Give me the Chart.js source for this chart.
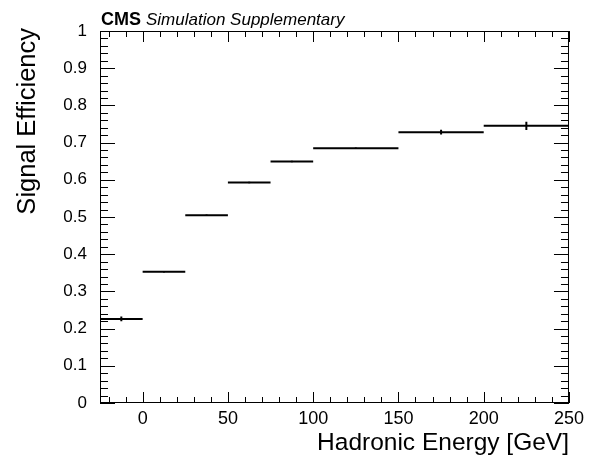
<!DOCTYPE html>
<html>
<head>
<meta charset="utf-8">
<script src="https://cdn.jsdelivr.net/npm/chart.js@4"></script>
<style>
  html, body { margin: 0; padding: 0; background: #fff; }
  #wrap { width: 589px; height: 455px; }
</style>
</head>
<body>
<div id="wrap"><canvas id="effChart"></canvas></div>
<script>
// bin edges in GeV and measured signal efficiency per bin
const binEdges = [-25, 0, 25, 50, 75, 100, 150, 200, 250];
const efficiency = [0.226, 0.353, 0.505, 0.593, 0.649, 0.685, 0.728, 0.745];
const effErrors = [0.0065, 0.002, 0.002, 0.002, 0.002, 0.002, 0.0065, 0.011];

const xTickLabels = [0, 50, 100, 150, 200, 250];
const yTickLabels = [0, 0.1, 0.2, 0.3, 0.4, 0.5, 0.6, 0.7, 0.8, 0.9, 1];

const FONT = "'Liberation Sans', Arial, Helvetica, sans-serif";

// horizontal bin segments, broken by nulls
let binLines = [];
let errorLines = [];
for (let i = 0; i < efficiency.length; i++) {
  let lo = binEdges[i];
  let hi = binEdges[i + 1];
  let mid = (lo + hi) / 2;
  binLines.push({ x: lo, y: efficiency[i] });
  binLines.push({ x: hi, y: efficiency[i] });
  binLines.push({ x: hi, y: null });
  errorLines.push({ x: mid, y: efficiency[i] - effErrors[i] });
  errorLines.push({ x: mid, y: efficiency[i] + effErrors[i] });
  errorLines.push({ x: mid, y: null });
}

// ROOT style frame with inward ticks on all four sides
const rootFrame = {
  id: "rootFrame",
  afterDraw(chart) {
    const ctx = chart.ctx;
    const area = chart.chartArea;
    const xs = chart.scales.x;
    const ys = chart.scales.y;
    ctx.save();
    ctx.strokeStyle = "#000";
    ctx.lineWidth = 1;
    ctx.strokeRect(area.left + 0.5, area.top + 0.5, area.right - area.left - 1, area.bottom - area.top - 1);

    ctx.beginPath();
    // x ticks: major every 50, minor every 10
    for (let v = -20; v <= 250; v += 10) {
      let px = Math.round(xs.getPixelForValue(v)) + 0.5;
      let len = v % 50 === 0 ? 11 : 6;
      ctx.moveTo(px, area.bottom);
      ctx.lineTo(px, area.bottom - len);
      ctx.moveTo(px, area.top);
      ctx.lineTo(px, area.top + len);
    }
    // y ticks: major every 0.1, minor every 0.02
    for (let k = 0; k <= 50; k++) {
      let py = Math.round(ys.getPixelForValue(k * 0.02)) + 0.5;
      let len = k % 5 === 0 ? 15 : 8;
      ctx.moveTo(area.left, py);
      ctx.lineTo(area.left + len, py);
      ctx.moveTo(area.right, py);
      ctx.lineTo(area.right - len, py);
    }
    ctx.stroke();

    ctx.fillStyle = "#000";
    // header
    ctx.textBaseline = "alphabetic";
    ctx.textAlign = "left";
    ctx.font = "bold 18px " + FONT;
    ctx.fillText("CMS", area.left + 1, 25);
    let w = ctx.measureText("CMS").width;
    ctx.font = "italic 17px " + FONT;
    ctx.fillText("Simulation Supplementary", area.left + 1 + w + 5, 25);

    // axis titles
    ctx.font = "24.5px " + FONT;
    ctx.textAlign = "right";
    ctx.fillText("Hadronic Energy [GeV]", area.right, 450);

    ctx.font = "25.5px " + FONT;
    ctx.translate(35, 28);
    ctx.rotate(-Math.PI / 2);
    ctx.textAlign = "right";
    ctx.fillText("Signal Efficiency", 0, 0);
    ctx.restore();
  },
};

new Chart(document.getElementById("effChart"), {
  type: "scatter",
  data: {
    datasets: [
      {
        label: "efficiency",
        data: binLines,
        showLine: true,
        spanGaps: false,
        borderColor: "#000",
        borderWidth: 2,
        pointRadius: 0,
        tension: 0,
      },
      {
        label: "error",
        data: errorLines,
        showLine: true,
        spanGaps: false,
        borderColor: "#000",
        borderWidth: 2,
        pointRadius: 0,
        tension: 0,
      },
    ],
  },
  options: {
    responsive: true,
    maintainAspectRatio: false,
    animation: false,
    layout: { padding: { left: 0, top: 31, right: 20, bottom: 0 } },
    plugins: {
      legend: { display: false },
      tooltip: { enabled: false },
    },
    scales: {
      x: {
        type: "linear",
        min: -25,
        max: 250,
        grid: { display: false, drawTicks: false },
        border: { display: false },
        afterBuildTicks: (scale) => {
          scale.ticks = xTickLabels.map((v) => ({ value: v }));
        },
        afterFit: (scale) => {
          scale.height = 52;
        },
        ticks: {
          color: "#000",
          padding: 5,
          maxRotation: 0,
          font: { family: FONT, size: 18 },
        },
      },
      y: {
        type: "linear",
        min: 0,
        max: 1,
        grid: { display: false, drawTicks: false },
        border: { display: false },
        afterBuildTicks: (scale) => {
          scale.ticks = yTickLabels.map((v) => ({ value: v }));
        },
        afterFit: (scale) => {
          scale.width = 100;
        },
        ticks: {
          color: "#000",
          padding: 13,
          font: { family: FONT, size: 17 },
          callback: (v) => String(Math.round(v * 10) / 10),
        },
      },
    },
  },
  plugins: [rootFrame],
});
</script>
</body>
</html>
